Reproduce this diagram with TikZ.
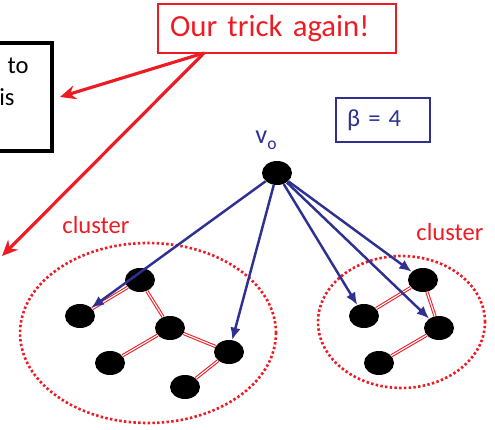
\documentclass[tikz,border=0pt]{standalone}
\usepackage{fontspec}
\setmainfont{Carlito}
\usetikzlibrary{arrows.meta, shapes.geometric, positioning}
\definecolor{trickred}{RGB}{237,28,36}
\definecolor{betablue}{RGB}{46,49,146}

\begin{document}
\begin{tikzpicture}[x=0.02cm, y=-0.02cm,
    vtx/.style={ellipse, fill=black, inner sep=0pt, minimum width=0.6cm, minimum height=0.48cm},
    tie/.style={draw=trickred, line width=0.6pt, double=white, double distance=0.65pt},
    pick/.style={-{Latex[length=7pt,width=6pt]}, betablue, line width=1.4pt},
    hint/.style={-{Stealth[length=9pt,width=8pt]}, trickred, line width=1.8pt},
    halo/.style={draw=trickred, line width=1.5pt, dash pattern=on 1.4pt off 1.3pt}]
    \useasboundingbox (0,0) rectangle (495,430);
    \clip (0,0) rectangle (495,430);

    % Note box, cut by the left edge
    \node[draw, line width=2.2pt, minimum width=1.6cm, minimum height=2.16cm] (note) at (12,97) {};
    \node[font=\fontsize{14}{16}\selectfont] (notea) at (18,66) {to};
    \node[font=\fontsize{14}{16}\selectfont] (noteb) at (7,97) {is};

    % Title box
    \node[draw=trickred, line width=1.6pt, text=trickred, font=\fontsize{17.5}{20}\selectfont,
          minimum width=4.76cm, minimum height=0.98cm, text width=4.28cm, inner xsep=0.24cm, align=left]
          (trick) at (277,28.5) {Our trick again!};

    % Beta box
    \node[draw=betablue, line width=1.4pt, text=betablue, font=\fontsize{14}{16}\selectfont,
          minimum width=1.88cm, minimum height=0.88cm, text width=1.44cm, inner xsep=0.22cm, align=left]
          (beta) at (383,120) {β = 4};

    % Root vertex
    \node[vtx] (root) at (277,173) {};
    \node[text=betablue, font=\fontsize{15}{16}\selectfont] (rootname) at (266,140)
          {v\raisebox{-3.5pt}{\fontsize{10}{10}\selectfont o}};

    % Clusters
    \node[halo, ellipse, minimum width=5.12cm, minimum height=3.6cm] (leftcl) at (148,333) {};
    \node[halo, ellipse, minimum width=3.34cm, minimum height=2.64cm] (rightcl) at (401.5,322) {};
    \node[text=trickred, font=\fontsize{14}{16}\selectfont] (leftname) at (96,225) {cluster};
    \node[text=trickred, font=\fontsize{14}{16}\selectfont] (rightname) at (450,232) {cluster};

    % Cluster vertices
    \foreach \n/\px/\py in {L1/140/280, L2/80/316, L3/170/328, L4/110/363, L5/229/352, L6/185/387,
                            R1/423/280, R2/364/316, R3/439/328, R4/379/363}
      \node[vtx] (\n) at (\px,\py) {};

    % Cluster edges
    \foreach \a/\b in {L2/L1, L1/L3, L3/L4, L3/L5, L5/L6, R2/R1, R1/R3, R3/R4}
      \draw[tie] (\a) -- (\b);

    % Arrows out of the root
    \foreach \t in {L2, L5, R2, R3, R1}
      \draw[pick] (root) -- (\t);

    % Red pointers
    \coordinate (fork) at (204,53);
    \coordinate (tipa) at (60,97);
    \coordinate (tipb) at (2,256);
    \draw[hint] (fork) -- (tipa);
    \draw[hint] (fork) -- (tipb);
\end{tikzpicture}
\end{document}
